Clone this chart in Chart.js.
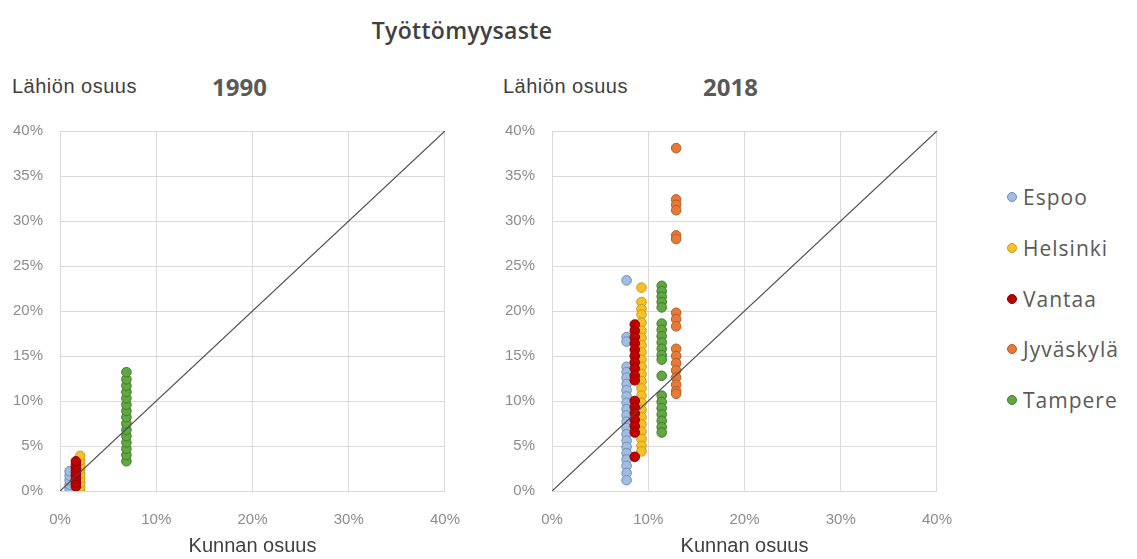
<!DOCTYPE html>
<html lang="fi">
<head>
<meta charset="utf-8">
<script src="https://cdn.jsdelivr.net/npm/chart.js@4.4.1/dist/chart.umd.min.js"></script>
<style>
  body { margin: 0; width: 1137px; height: 559px; background: #fff; position: relative; overflow: hidden; font-family: 'Liberation Sans', Arial, sans-serif; }
  .abs { position: absolute; white-space: nowrap; }
  #title { left: 0; width: 924px; top: 14px; text-align: center; font-family: 'Open Sans', sans-serif; font-weight: 600; font-size: 23px; letter-spacing: 0.3px; color: #404040; }
  .year { top: 70px; font-family: 'Open Sans', sans-serif; font-weight: 700; font-size: 24px; color: #595959; }
  .ylab { top: 75px; font-size: 20px; letter-spacing: 0.5px; color: #404040; }
  #legend { left: 1007px; top: 183px; font-family: 'Open Sans', sans-serif; font-size: 21px; letter-spacing: 1px; color: #595959; }
  .item { height: 50.75px; display: flex; align-items: flex-start; }
  .dot { width: 10px; height: 10px; border-radius: 50%; border: 1px solid; margin-top: 9px; margin-right: 6px; box-sizing: border-box; }
</style>
</head>
<body>
<div id="title" class="abs">Työttömyysaste</div>
<div class="abs ylab" style="left:12px">Lähiön osuus</div>
<div class="abs year" style="left:212px">1990</div>
<div class="abs ylab" style="left:503px">Lähiön osuus</div>
<div class="abs year" style="left:703px">2018</div>
<canvas id="c1990" class="abs" width="480" height="559" style="left:0;top:0"></canvas>
<canvas id="c2018" class="abs" width="480" height="559" style="left:492px;top:0"></canvas>
<div id="legend" class="abs"></div>
<script>
// Kaupungit ja värit
const cities = ['Espoo', 'Helsinki', 'Vantaa', 'Jyväskylä', 'Tampere'];
const fillColors = ['#a3bde0', '#f5c02a', '#c00000', '#e47b3a', '#62a743'];
const lineColors = ['#6d8db8', '#c99b10', '#8a0000', '#b65c25', '#417c2b'];

// Kunnan työttömyysaste (x-akseli)
const kunta1990 = [1.0, 2.1, 1.65, null, 6.9];
const kunta2018 = [7.75, 9.3, 8.6, 12.9, 11.4];

// Lähiöiden työttömyysaste (y-akseli), 1990
const espoo1990 = [0.2, 0.7, 1.2, 1.7, 2.2];
const helsinki1990 = [0, 0.4, 0.9, 1.4, 1.9, 2.4, 2.9, 3.4, 3.9];
const vantaa1990 = [0.5, 0.9, 1.3, 1.7, 2.1, 2.5, 2.9, 3.3];
const jyvaskyla1990 = [];
const tampere1990 = [3.3, 4.0, 4.7, 5.4, 6.1, 6.8, 7.5, 8.2, 8.9, 9.6, 10.3, 11.0, 11.7, 12.4, 13.2];

// 2018
const espoo2018 = [23.4, 17.1, 16.6, 13.8, 13.2, 12.6, 11.9, 11.2, 10.5, 9.8, 9.1, 8.4, 7.7, 7.0, 6.3, 5.6, 4.9, 4.2, 3.5, 2.8, 2.0, 1.2];
const helsinki2018 = [22.6, 21.0, 20.2, 19.6, 18.7, 17.8, 17.0, 16.2, 15.4, 14.6, 13.8, 13.0, 12.2, 11.4, 10.6, 9.8, 9.0, 8.2, 7.4, 6.6, 5.8, 5.0, 4.4];
const vantaa2018 = [18.5, 17.8, 17.1, 16.4, 15.7, 15.0, 14.3, 13.6, 12.8, 12.3, 10.0, 9.3, 8.6, 7.9, 7.2, 6.5, 3.8];
const jyvaskyla2018 = [38.1, 32.4, 31.8, 31.2, 28.4, 28.0, 19.8, 19.1, 18.3, 15.8, 15.0, 14.2, 13.4, 12.6, 11.8, 11.1, 10.8];
const tampere2018 = [22.8, 22.2, 21.6, 21.0, 20.4, 18.6, 17.9, 17.2, 16.5, 15.8, 15.1, 14.6, 12.8, 10.6, 9.9, 9.2, 8.5, 7.8, 7.1, 6.5];

// Apuviiva y = x
const diagonal = [0, 40];

function buildDatasets(kunta, lists) {
    const sets = cities.map((name, i) => ({
        label: name,
        data: lists[i].map(v => ({ x: kunta[i], y: v })),
        backgroundColor: fillColors[i],
        borderColor: lineColors[i],
        borderWidth: 1,
        pointRadius: 4.8,
        order: cities.length - i
    }));
    sets.push({
        label: 'y=x',
        data: diagonal.map(v => ({ x: v, y: v })),
        showLine: true,
        borderColor: '#4a4a4a',
        borderWidth: 1.2,
        pointRadius: 0,
        order: 0
    });
    return sets;
}

function makeChart(id, datasets) {
    const ctx = document.getElementById(id).getContext('2d');
    return new Chart(ctx, {
        type: 'scatter',
        data: { datasets: datasets },
        options: {
            responsive: false,
            animation: false,
            layout: { padding: { left: 0, right: 33, top: 131, bottom: 0 } },
            plugins: { legend: { display: false }, tooltip: { enabled: false } },
            scales: {
                x: {
                    min: 0, max: 40,
                    ticks: { stepSize: 10, padding: 20, color: '#8c8c8c', font: { size: 15 }, callback: v => v + '%' },
                    grid: { color: '#d9d9d9', drawTicks: false },
                    border: { color: '#d9d9d9' },
                    title: { display: true, text: 'Kunnan osuus', color: '#404040', font: { size: 20 }, padding: { top: 0, bottom: 1 } },
                    afterFit: s => { s.height = 68; }
                },
                y: {
                    min: 0, max: 40,
                    ticks: { stepSize: 5, padding: 17, color: '#8c8c8c', font: { size: 15 }, callback: v => v + '%' },
                    grid: { color: '#d9d9d9', drawTicks: false },
                    border: { color: '#d9d9d9' },
                    afterFit: s => { s.width = 60; }
                }
            }
        }
    });
}

Chart.defaults.font.family = "'Liberation Sans', Arial, sans-serif";

makeChart('c1990', buildDatasets(kunta1990, [espoo1990, helsinki1990, vantaa1990, jyvaskyla1990, tampere1990]));
makeChart('c2018', buildDatasets(kunta2018, [espoo2018, helsinki2018, vantaa2018, jyvaskyla2018, tampere2018]));

// Selite
const legend = document.getElementById('legend');
cities.forEach((name, i) => {
    const row = document.createElement('div');
    row.className = 'item';
    const dot = document.createElement('span');
    dot.className = 'dot';
    dot.style.background = fillColors[i];
    dot.style.borderColor = lineColors[i];
    const txt = document.createElement('span');
    txt.textContent = name;
    row.appendChild(dot);
    row.appendChild(txt);
    legend.appendChild(row);
});
</script>
</body>
</html>
